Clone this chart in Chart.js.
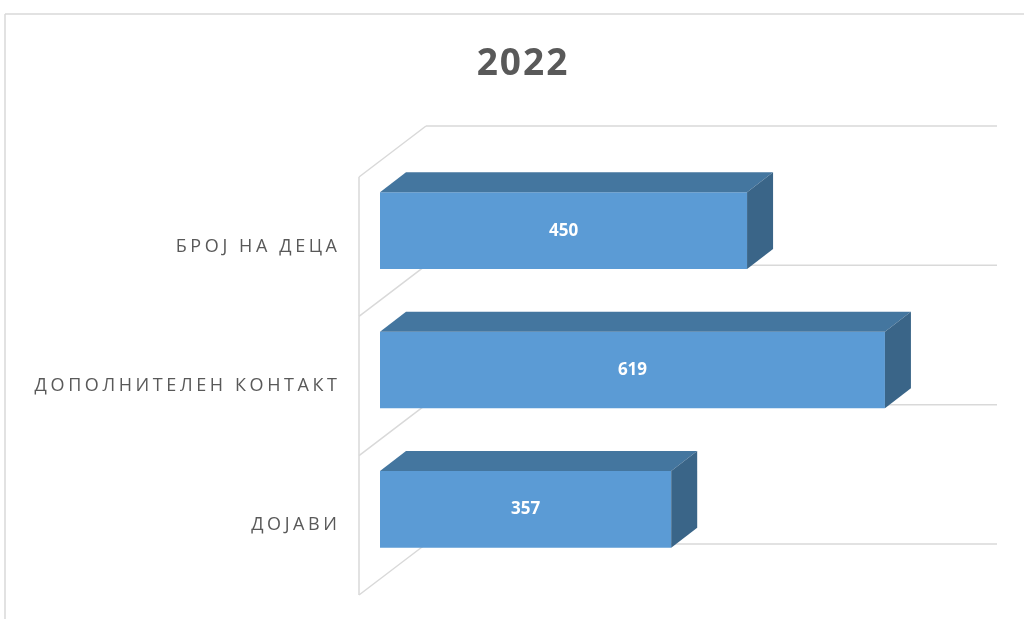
<!DOCTYPE html>
<html>
<head>
<meta charset="utf-8">
<script src="https://cdn.jsdelivr.net/npm/chart.js@4.4.1/dist/chart.umd.min.js"></script>
<style>
  html, body { margin: 0; padding: 0; background: #fff; }
  #wrap { width: 1024px; height: 619px; }
</style>
</head>
<body>
<div id="wrap"><canvas id="chart" width="1024" height="619"></canvas></div>
<script>
// Data
const categories = ['БРОЈ НА ДЕЦА', 'ДОПОЛНИТЕЛЕН КОНТАКТ', 'ДОЈАВИ'];
const values = [450, 619, 357];
const axisMin = 0;
const axisMax = 700;
const chartTitle = '2022';

// Palette
const FRONT = '#5B9BD5';
const TOP   = '#44769F';
const SIDE  = '#3A6588';
const GRID  = '#D9D9D9';
const TEXT  = '#595959';

// 3D offsets (relative to the bar front plane)
const WALL_FRONT = { dx: -21, dy: 16 };
const WALL_BACK  = { dx: 46, dy: -35 };
const BAR_DEPTH  = { dx: 26, dy: -20 };

function line(ctx, x1, y1, x2, y2) {
  ctx.beginPath();
  ctx.moveTo(x1, y1);
  ctx.lineTo(x2, y2);
  ctx.stroke();
}

const fake3d = {
  id: 'fake3d',
  beforeDatasetsDraw(chart) {
    const { ctx, scales: { x, y } } = chart;
    ctx.save();

    // chart area outline
    ctx.strokeStyle = GRID;
    ctx.lineWidth = 1.5;
    line(ctx, 5, 14, 1024, 14);
    line(ctx, 5, 14, 5, 619);

    // walls + gridlines
    const x0 = x.getPixelForValue(axisMin);
    const x1 = x.getPixelForValue(axisMax);
    const step = y.getPixelForValue(1) - y.getPixelForValue(0);
    const bounds = [];
    for (let i = 0; i <= categories.length; i++) {
      bounds.push(y.getPixelForValue(0) - step / 2 + i * step);
    }
    line(ctx, x0 + WALL_FRONT.dx, bounds[0] + WALL_FRONT.dy,
              x0 + WALL_FRONT.dx, bounds[bounds.length - 1] + WALL_FRONT.dy);
    bounds.forEach(b => {
      line(ctx, x0 + WALL_FRONT.dx, b + WALL_FRONT.dy, x0 + WALL_BACK.dx, b + WALL_BACK.dy);
      line(ctx, x0 + WALL_BACK.dx, b + WALL_BACK.dy, x1 + WALL_BACK.dx, b + WALL_BACK.dy);
    });

    // category labels
    ctx.fillStyle = TEXT;
    ctx.font = '18px "Open Sans", sans-serif';
    ctx.textAlign = 'right';
    ctx.textBaseline = 'middle';
    const spacing = 3.6;
    ctx.letterSpacing = spacing + 'px';
    categories.forEach((c, i) => {
      ctx.fillText(c, x0 - 43 + spacing, y.getPixelForValue(i) + WALL_FRONT.dy);
    });
    ctx.letterSpacing = '0px';

    // title
    ctx.font = 'bold 37px "Open Sans", sans-serif';
    ctx.textAlign = 'center';
    ctx.textBaseline = 'alphabetic';
    ctx.letterSpacing = '2px';
    ctx.fillText(chartTitle, 523, 75);
    ctx.letterSpacing = '0px';

    ctx.restore();
  },
  afterDatasetsDraw(chart) {
    const { ctx } = chart;
    const meta = chart.getDatasetMeta(0);
    ctx.save();
    meta.data.forEach((bar, i) => {
      const { x, y, base, height } = bar.getProps(['x', 'y', 'base', 'height'], true);
      const top = y - height / 2;
      const bottom = y + height / 2;
      const left = Math.min(x, base);
      const right = Math.max(x, base);

      // top face
      ctx.fillStyle = TOP;
      ctx.beginPath();
      ctx.moveTo(left, top);
      ctx.lineTo(left + BAR_DEPTH.dx, top + BAR_DEPTH.dy);
      ctx.lineTo(right + BAR_DEPTH.dx, top + BAR_DEPTH.dy);
      ctx.lineTo(right, top);
      ctx.closePath();
      ctx.fill();

      // right face
      ctx.fillStyle = SIDE;
      ctx.beginPath();
      ctx.moveTo(right, top);
      ctx.lineTo(right + BAR_DEPTH.dx, top + BAR_DEPTH.dy);
      ctx.lineTo(right + BAR_DEPTH.dx, bottom + BAR_DEPTH.dy);
      ctx.lineTo(right, bottom);
      ctx.closePath();
      ctx.fill();

      // value label
      ctx.fillStyle = '#FFFFFF';
      ctx.font = 'bold 17px "Open Sans", sans-serif';
      ctx.textAlign = 'center';
      ctx.textBaseline = 'middle';
      ctx.fillText(String(values[i]), (left + right) / 2, y);
    });
    ctx.restore();
  }
};

new Chart(document.getElementById('chart'), {
  type: 'bar',
  data: {
    labels: categories,
    datasets: [{
      data: values,
      backgroundColor: FRONT,
      borderWidth: 0,
      barPercentage: 0.55,
      categoryPercentage: 1,
    }],
  },
  options: {
    indexAxis: 'y',
    responsive: false,
    animation: false,
    layout: { padding: { left: 380, right: 73, top: 161, bottom: 40 } },
    plugins: {
      legend: { display: false },
      tooltip: { enabled: false },
      title: { display: false },
    },
    scales: {
      x: { display: false, min: axisMin, max: axisMax },
      y: { display: false },
    },
  },
  plugins: [fake3d],
});
</script>
</body>
</html>
